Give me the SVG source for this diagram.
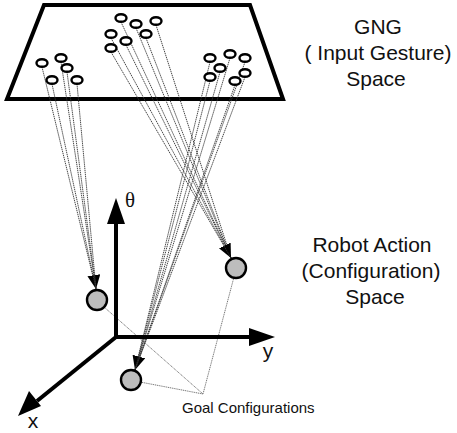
<svg xmlns="http://www.w3.org/2000/svg" width="457" height="433" viewBox="0 0 457 433">
  <style>
    .frame { fill: none; stroke: #000; stroke-width: 4; stroke-linejoin: miter; }
    .gng { fill: #fff; stroke: #000; stroke-width: 2.4; }
    .goal { fill: #bdbdbd; stroke: #000; stroke-width: 2.4; }
    .map { stroke: #333; stroke-width: 0.9; stroke-dasharray: 1.4 0.7; fill: none; }
    .pointer { stroke: #555; stroke-width: 0.8; stroke-dasharray: 1.2 0.7; fill: none; }
    .axis { stroke: #000; stroke-width: 4; fill: none; }
    .label { font-family: "Liberation Sans", Arial, sans-serif; font-size: 21px; fill: #111; text-anchor: middle; }
    .small { font-family: "Liberation Sans", Arial, sans-serif; font-size: 15px; fill: #111; }
    .sym { font-family: "Liberation Serif", "Times New Roman", serif; font-size: 21px; fill: #111; }
  </style>
  <defs>
    <marker id="head" markerUnits="userSpaceOnUse" markerWidth="15" markerHeight="13" refX="14" refY="6.5" orient="auto">
      <path d="M0,0 L14,6.5 L0,13 z" fill="#000"/>
    </marker>
  </defs>

  <!-- input gesture plane -->
  <polygon id="gng-plane" class="frame" points="44,5 250,5 283,99 7,99"/>

  <!-- mappings from gesture nodes to configurations -->
  <g id="connectors">
    <!-- left cluster to left configuration -->
    <line class="map" x1="42" y1="67" x2="96" y2="289"/>
    <line class="map" x1="61" y1="62" x2="96" y2="289" marker-end="url(#head)"/>
    <line class="map" x1="67" y1="72" x2="96" y2="289"/>
    <line class="map" x1="52" y1="84" x2="96" y2="289"/>
    <line class="map" x1="77" y1="84" x2="96" y2="289"/>
    <!-- middle cluster to right configuration -->
    <line class="map" x1="121" y1="22" x2="231" y2="258"/>
    <line class="map" x1="136" y1="28" x2="231" y2="258"/>
    <line class="map" x1="156" y1="25" x2="231" y2="258"/>
    <line class="map" x1="111" y1="38" x2="231" y2="258"/>
    <line class="map" x1="146" y1="38" x2="231" y2="258"/>
    <line class="map" x1="126" y1="45" x2="231" y2="258" marker-end="url(#head)"/>
    <line class="map" x1="111" y1="52" x2="231" y2="258"/>
    <!-- right cluster to bottom configuration -->
    <line class="map" x1="210" y1="62" x2="135" y2="370"/>
    <line class="map" x1="230" y1="58" x2="135" y2="370"/>
    <line class="map" x1="245" y1="62" x2="135" y2="370"/>
    <line class="map" x1="220" y1="72" x2="135" y2="370" marker-end="url(#head)"/>
    <line class="map" x1="210" y1="81" x2="135" y2="370"/>
    <line class="map" x1="245" y1="77" x2="135" y2="370"/>
    <line class="map" x1="235" y1="85" x2="135" y2="370"/>
    <!-- goal configuration pointers -->
    <line class="pointer" x1="104" y1="307" x2="203" y2="394"/>
    <line class="pointer" x1="234" y1="277" x2="203" y2="394"/>
    <line class="pointer" x1="140" y1="382" x2="203" y2="394"/>
  </g>

  <!-- gesture nodes -->
  <g id="gng-left">
    <ellipse class="gng" cx="42" cy="63" rx="5.5" ry="3.8"/>
    <ellipse class="gng" cx="61" cy="58" rx="5.5" ry="3.8"/>
    <ellipse class="gng" cx="67" cy="68" rx="5.5" ry="3.8"/>
    <ellipse class="gng" cx="52" cy="80" rx="5.5" ry="3.8"/>
    <ellipse class="gng" cx="77" cy="80" rx="5.5" ry="3.8"/>
  </g>
  <g id="gng-middle">
    <ellipse class="gng" cx="121" cy="18" rx="5.5" ry="3.8"/>
    <ellipse class="gng" cx="136" cy="24" rx="5.5" ry="3.8"/>
    <ellipse class="gng" cx="156" cy="21" rx="5.5" ry="3.8"/>
    <ellipse class="gng" cx="111" cy="34" rx="5.5" ry="3.8"/>
    <ellipse class="gng" cx="146" cy="34" rx="5.5" ry="3.8"/>
    <ellipse class="gng" cx="126" cy="41" rx="5.5" ry="3.8"/>
    <ellipse class="gng" cx="111" cy="48" rx="5.5" ry="3.8"/>
  </g>
  <g id="gng-right">
    <ellipse class="gng" cx="210" cy="58" rx="5.5" ry="3.8"/>
    <ellipse class="gng" cx="230" cy="54" rx="5.5" ry="3.8"/>
    <ellipse class="gng" cx="245" cy="58" rx="5.5" ry="3.8"/>
    <ellipse class="gng" cx="220" cy="68" rx="5.5" ry="3.8"/>
    <ellipse class="gng" cx="210" cy="77" rx="5.5" ry="3.8"/>
    <ellipse class="gng" cx="245" cy="73" rx="5.5" ry="3.8"/>
    <ellipse class="gng" cx="235" cy="81" rx="5.5" ry="3.8"/>
  </g>

  <!-- configuration space axes -->
  <g id="axes">
    <path class="axis" d="M116,339 L116,220"/>
    <polygon points="116,198 107,224 125,224" fill="#000"/>
    <path class="axis" d="M114,337 L250,337"/>
    <polygon points="275,337 249,328 249,346" fill="#000"/>
    <path class="axis" d="M116,337 L37,401"/>
    <polygon points="18,416 29,391 41,406" fill="#000"/>
    <text class="sym" x="130" y="207" text-anchor="middle">θ</text>
    <text class="label" x="268" y="358">y</text>
    <text class="label" x="33" y="428">x</text>
  </g>

  <!-- goal configurations -->
  <g id="goal-left"><circle class="goal" cx="97" cy="300" r="10"/></g>
  <g id="goal-right"><circle class="goal" cx="236" cy="268" r="10"/></g>
  <g id="goal-bottom"><circle class="goal" cx="131" cy="380" r="10"/></g>

  <!-- captions -->
  <g id="caption-gng">
    <text class="label" x="378" y="34">GNG</text>
    <text class="label" x="378" y="60">( Input Gesture)</text>
    <text class="label" x="376" y="86">Space</text>
  </g>
  <g id="caption-robot">
    <text class="label" x="372" y="252">Robot Action</text>
    <text class="label" x="371" y="278">(Configuration)</text>
    <text class="label" x="375" y="304">Space</text>
  </g>
  <g id="caption-goal">
    <text class="small" x="182" y="413">Goal Configurations</text>
  </g>
</svg>
